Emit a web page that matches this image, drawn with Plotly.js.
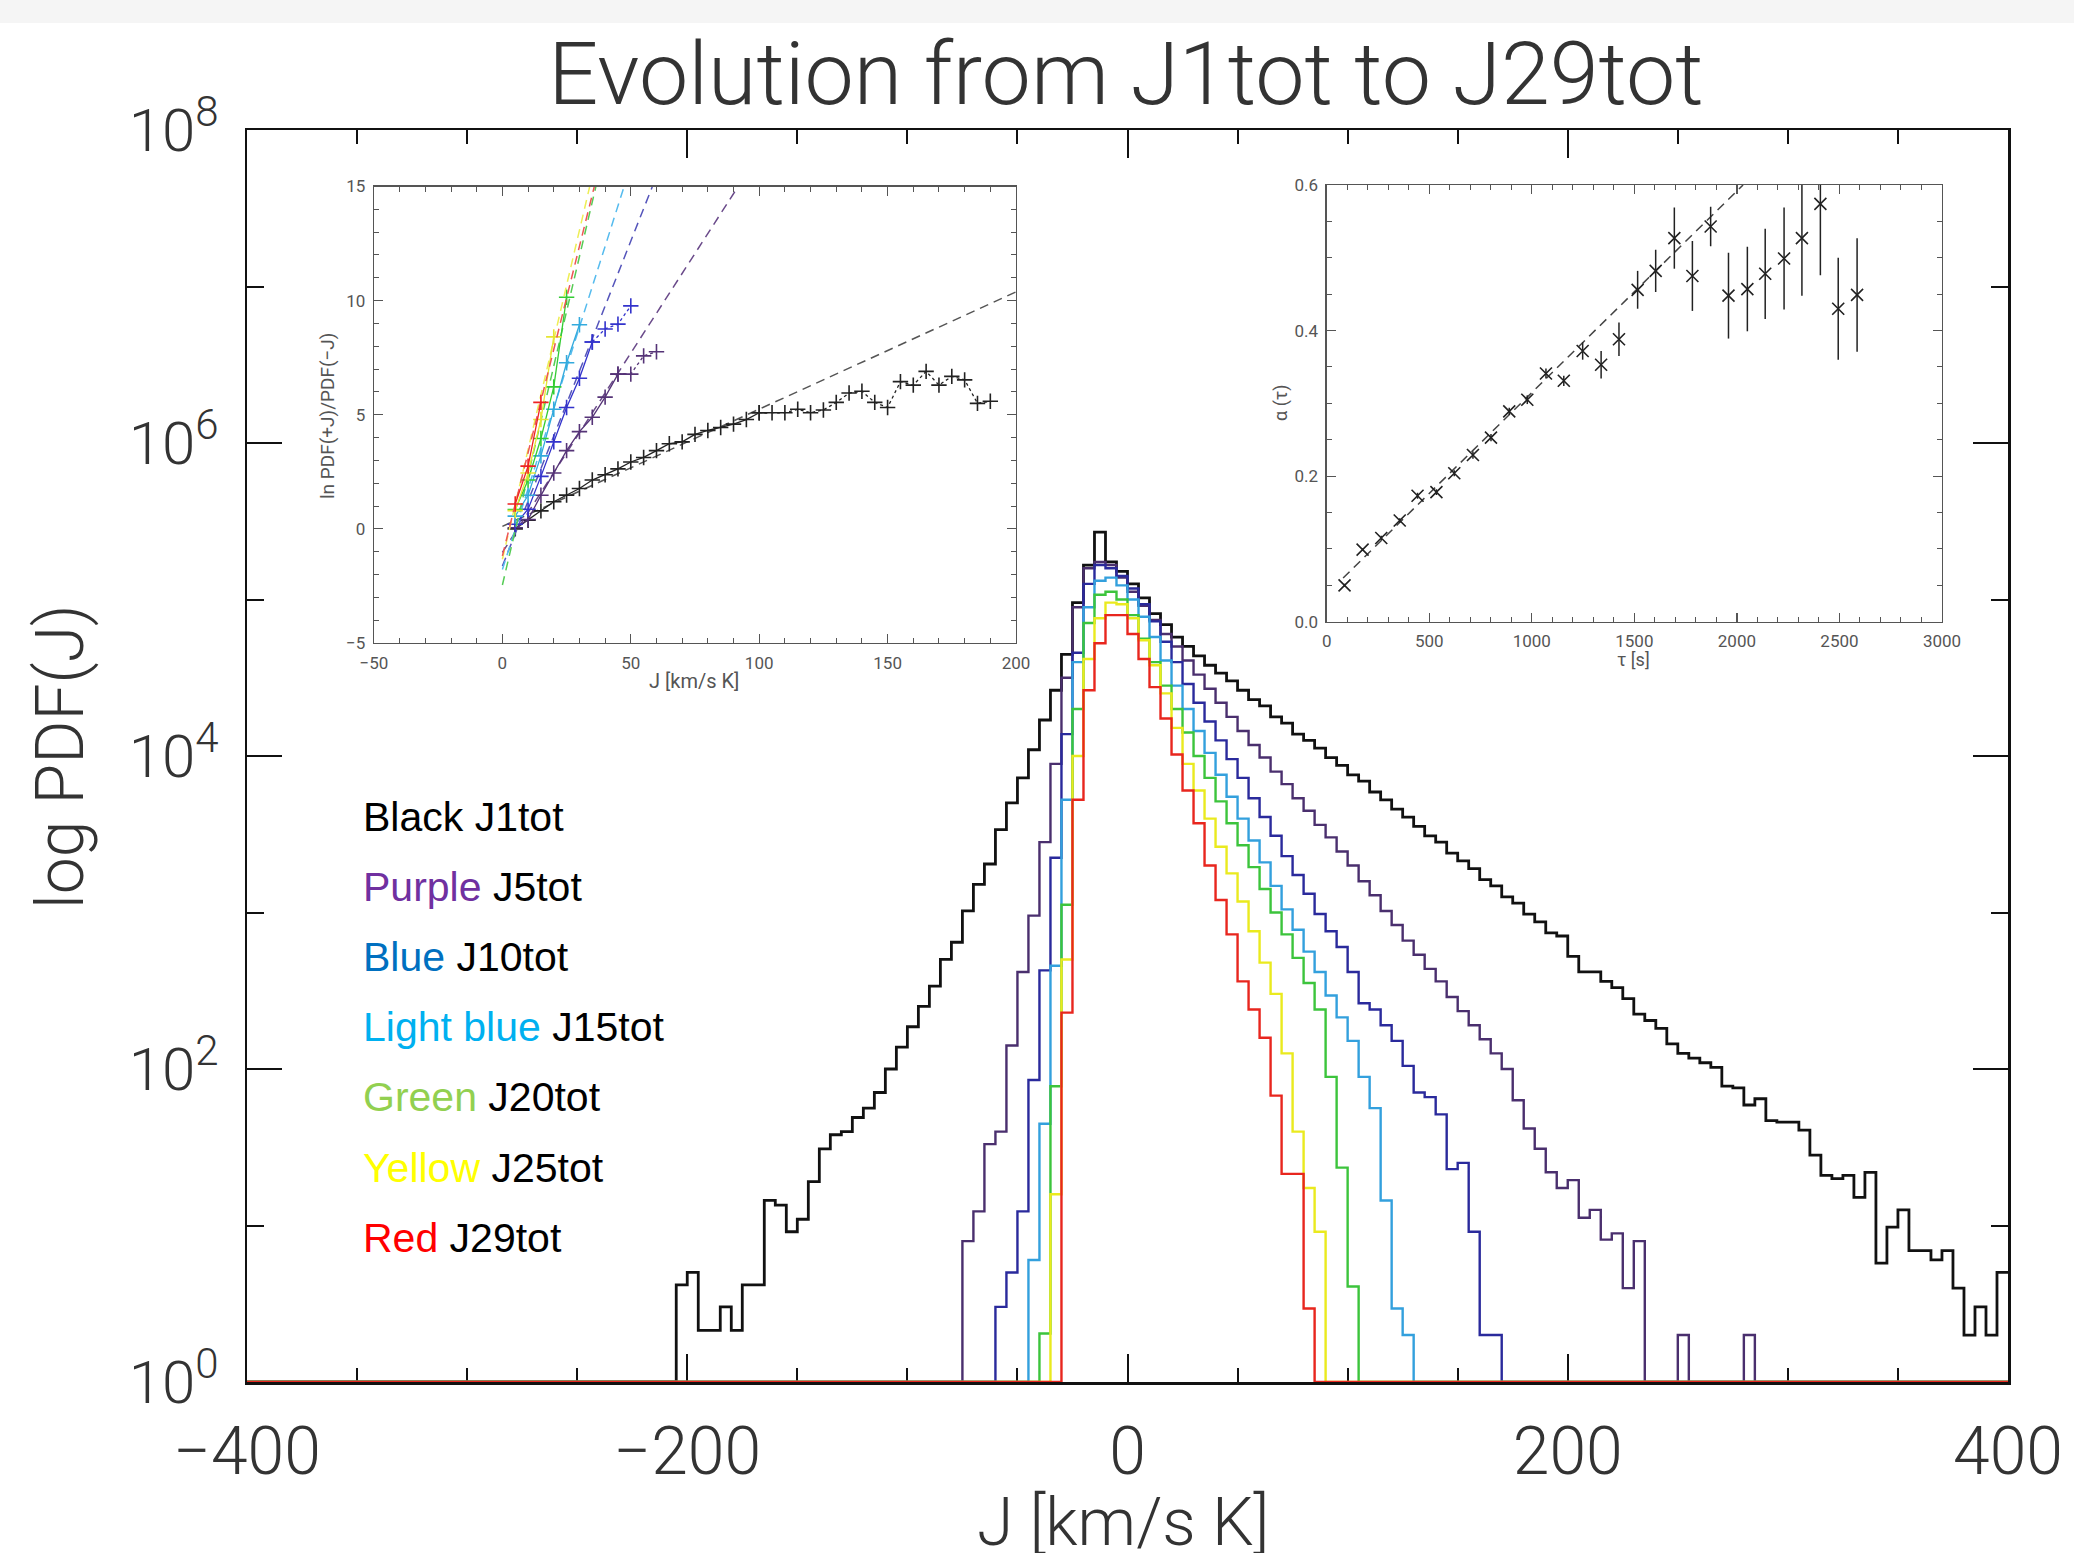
<!DOCTYPE html>
<html><head><meta charset="utf-8">
<script src="https://cdn.plot.ly/plotly-3.0.1.min.js"></script>
<style>
html,body{margin:0;padding:0;background:#fff;}
#band{position:absolute;left:0;top:0;width:2074px;height:23px;background:#f5f5f5;z-index:5;}
#plot{width:2074px;height:1553px;}
</style>
</head><body><div id="band"></div><div id="plot"></div>
<script>
// ---------------- main histograms (log10 of PDF per 5-unit bin) ----------------
const BIN = 5, J_MIN = -400, J_MAX = 400;
const seriesNames = ['J1tot','J5tot','J10tot','J15tot','J20tot','J25tot','J29tot'];
const lineColors  = ['#111111','#4a2f6e','#2a2a9c','#33a0dd','#3cc43c','#eaea1e','#e8261e'];
const lineWidths  = [2.8, 2.4, 2.4, 2.4, 2.4, 2.4, 2.4];
const startJ      = [-205, -75, -60, -45, -40, -35, -30];

const logBlack = [0.62,0.70,0.33,0.33,0.48,0.33,0.62,0.62,1.16,1.13,0.96,1.04,1.28,1.49,1.58,1.60,1.69,1.75,1.85,2.00,
  2.14,2.27,2.40,2.53,2.70,2.81,3.01,3.18,3.31,3.53,3.70,3.86,4.04,4.23,4.42,4.65,4.98,5.22,5.43,5.24,
  5.18,5.10,5.01,4.91,4.84,4.76,4.70,4.64,4.58,4.53,4.48,4.42,4.36,4.32,4.25,4.21,4.14,4.10,4.05,3.99,
  3.94,3.88,3.84,3.77,3.72,3.66,3.61,3.55,3.49,3.45,3.38,3.33,3.28,3.21,3.17,3.10,3.06,2.99,2.94,2.87,
  2.85,2.72,2.62,2.62,2.56,2.52,2.45,2.35,2.31,2.26,2.16,2.10,2.07,2.04,2.01,1.89,1.88,1.77,1.81,1.67,
  1.66,1.66,1.61,1.45,1.32,1.30,1.32,1.18,1.34,0.76,0.99,1.10,0.84,0.84,0.78,0.84,0.60,0.30,0.48,0.30,0.70];
const logPurple = [0.90,1.09,1.52,1.60,2.15,2.62,2.98,3.45,3.95,4.50,4.95,5.20,5.24,5.22,5.14,5.05,4.96,4.87,4.78,4.70,
  4.61,4.52,4.43,4.34,4.25,4.16,4.07,3.99,3.90,3.82,3.73,3.65,3.56,3.48,3.39,3.30,3.20,3.11,3.01,2.92,
  2.82,2.73,2.64,2.56,2.46,2.37,2.28,2.19,2.10,2.00,1.80,1.62,1.49,1.34,1.24,1.29,1.05,1.10,0.91,0.95,
  0.60,0.90,0,0,0,0.30,0,0,0,0,0,0.30];
const logBlue = [0.48,0.70,1.09,1.93,2.63,3.35,4.14,4.66,5.10,5.22,5.20,5.15,5.07,4.97,4.86,4.73,4.60,4.46,4.34,4.22,
  4.10,3.98,3.86,3.73,3.61,3.49,3.36,3.24,3.12,2.99,2.88,2.78,2.62,2.42,2.38,2.28,2.18,2.02,1.85,1.82,
  1.71,1.36,1.40,0.96,0.30,0.30];
const logLightBlue = [0.78,1.65,2.66,3.72,4.60,4.95,5.12,5.14,5.09,5.00,4.89,4.76,4.61,4.45,4.30,4.16,4.02,3.88,3.74,3.60,
  3.46,3.32,3.17,3.02,2.89,2.75,2.62,2.47,2.33,2.18,1.95,1.75,1.16,0.47,0.30];
const logGreen = [0.31,1.89,3.05,4.30,4.85,5.03,5.05,5.00,4.90,4.75,4.60,4.45,4.30,4.15,4.00,3.86,3.71,3.57,3.43,3.29,
  3.15,3.00,2.86,2.71,2.55,2.38,1.95,1.37,0.61];
const logYellow = [1.20,2.70,4.00,4.62,4.88,4.98,4.97,4.88,4.74,4.58,4.40,4.18,3.95,3.78,3.60,3.42,3.25,3.07,2.88,2.68,
  2.48,2.10,1.60,1.24,0.96];
const logRed = [2.36,3.72,4.42,4.72,4.90,4.90,4.78,4.62,4.44,4.24,4.01,3.78,3.57,3.30,3.08,2.86,2.56,2.38,2.20,1.83,
  1.33,1.33,0.47];
const allLogs = [logBlack, logPurple, logBlue, logLightBlue, logGreen, logYellow, logRed];

const xTickVals = [-400,-200,0,200,400];
const xMinorVals = [-350,-300,-250,-150,-100,-50,50,100,150,250,300,350];
const yTickVals = [1,1e2,1e4,1e6,1e8];
const yTickText = ['10<sup>0</sup>','10<sup>2</sup>','10<sup>4</sup>','10<sup>6</sup>','10<sup>8</sup>'];
const yMinorVals = [1e1,1e3,1e5,1e7];

// ---------------- left inset: ln PDF(+J)/PDF(-J) ----------------
const insBlackJ = [5,10,15,20,25,30,35,40,45,50,55,60,65,70,75,80,85,90,95,100,105,110,115,120,125,130,135,140,145,150,155,160,165,170,175,180,185,190];
const insBlackV = [0.00,0.38,0.79,1.19,1.48,1.77,2.14,2.37,2.63,2.93,3.13,3.43,3.73,3.81,4.14,4.31,4.44,4.59,4.79,5.09,5.09,5.09,5.24,5.09,5.21,5.54,5.95,6.03,5.54,5.32,6.45,6.30,6.90,6.30,6.68,6.53,5.50,5.59];
const insPurpleJ = [5,10,15,20,25,30,35,40,45,50,55,60];
const insPurpleV = [0.05,0.41,1.47,2.45,3.43,4.26,4.89,5.77,6.78,6.78,7.58,7.76];
const insBlueJ = [5,10,15,20,25,30,35,40,45,50];
const insBlueV = [0.20,0.86,2.30,3.81,5.32,6.60,8.19,8.76,8.97,9.77];
const insLightBlueJ = [5,10,15,20,25,30];
const insLightBlueV = [0.56,1.47,3.20,5.24,7.28,8.94];
const insGreenJ = [5,10,15,20,25];
const insGreenV = [0.85,2.14,3.96,6.22,10.15];
const insYellowJ = [5,10,15,20];
const insYellowV = [0.80,2.45,4.79,8.41];
const insRedJ = [5,10,15];
const insRedV = [1.09,2.75,5.54];
const insFitEndJ = [100,45,35,30,25,20,15];           // last point joined by a solid line
const insFitJ = [[0,200],[0,91.8],[0,58.4],[0,47.4],[0,36.4],[0,34.0],[0,35.8]];
const insFitV = [[0.11,10.38],[-1.03,15],[-1.63,15],[-1.78,15],[-2.46,15],[-1.33,15],[-1.18,15]];
const insMarkColors = ['#222222','#553377','#3333cc','#33aadd','#33cc33','#e6e633','#ee2222'];
const insDashColors = ['#555555','#6a4a8a','#5555bb','#55bbee','#55cc55','#eeee55','#ee5555'];
const insJs = [insBlackJ,insPurpleJ,insBlueJ,insLightBlueJ,insGreenJ,insYellowJ,insRedJ];
const insVs = [insBlackV,insPurpleV,insBlueV,insLightBlueV,insGreenV,insYellowV,insRedV];

// ---------------- right inset: alpha(tau) ----------------
const tau = [87,175,266,356,443,535,622,713,801,890,978,1069,1156,1248,1338,1425,1516,1604,1695,1783,1872,1959,2051,2138,2230,2317,2407,2494,2586];
const alpha = [0.050,0.099,0.115,0.139,0.173,0.178,0.204,0.229,0.253,0.289,0.305,0.341,0.331,0.372,0.353,0.388,0.456,0.482,0.527,0.475,0.543,0.448,0.457,0.478,0.499,0.527,0.574,0.430,0.449];
const alphaErr = [0.002,0.002,0.003,0.003,0.004,0.004,0.004,0.005,0.005,0.005,0.006,0.007,0.007,0.012,0.019,0.023,0.026,0.029,0.042,0.048,0.027,0.059,0.058,0.062,0.070,0.079,0.098,0.070,0.078];
const fitTau = [80,2030];
const fitAlpha = [0.060,0.600];

// ---------------- legend ----------------
const legendWords  = ['Black','Purple','Blue','Light blue','Green','Yellow','Red'];
const legendColors = ['#000000','#7030a0','#0070c0','#00b0f0','#92d050','#ffff00','#ff0000'];

// ================= build =================
const W = 2074, H = 1553;
const px = v => v / W, py = v => 1 - v / H;
const F = 'Roboto, "DejaVu Sans", sans-serif';
const FA = '"Liberation Sans", Arial, sans-serif';

const traces = [];
allLogs.forEach((logs, s) => {
  const x = [], y = [];
  const nb = (J_MAX - J_MIN) / BIN;
  for (let i = 0; i < nb; i++) {
    const j = J_MIN + i * BIN;
    const k = Math.round((j - startJ[s]) / BIN);
    const L = (k >= 0 && k < logs.length) ? logs[k] : 0;
    x.push(j); y.push(Math.pow(10, L));
  }
  x.push(J_MAX); y.push(y[y.length - 1]);
  traces.push({type:'scatter', mode:'lines', x:x, y:y, name:seriesNames[s],
    line:{shape:'hv', color:lineColors[s], width:lineWidths[s]}, xaxis:'x', yaxis:'y', hoverinfo:'skip'});
});

// left inset traces
insJs.forEach((J, s) => {
  const V = insVs[s];
  traces.push({type:'scatter', mode:'lines', x:insFitJ[s], y:insFitV[s], xaxis:'x2', yaxis:'y2',
    line:{color:insDashColors[s], width:1.5, dash:'9px,6px'}, hoverinfo:'skip'});
  const ie = J.indexOf(insFitEndJ[s]);
  traces.push({type:'scatter', mode:'lines+markers', x:J.slice(0, ie + 1), y:V.slice(0, ie + 1), xaxis:'x2', yaxis:'y2',
    line:{color:insMarkColors[s], width:1.3},
    marker:{symbol:'cross-thin', size:11, line:{width:1.6, color:insMarkColors[s]}}, hoverinfo:'skip'});
  if (ie < J.length - 1) {
    traces.push({type:'scatter', mode:'lines+markers', x:J.slice(ie), y:V.slice(ie), xaxis:'x2', yaxis:'y2',
      line:{color:insMarkColors[s], width:1.3, dash:'dot'},
      marker:{symbol:'cross-thin', size:11, line:{width:1.6, color:insMarkColors[s]}}, hoverinfo:'skip'});
  }
});

// right inset traces
traces.push({type:'scatter', mode:'lines', x:fitTau, y:fitAlpha, xaxis:'x3', yaxis:'y3',
  line:{color:'#444', width:1.5, dash:'9px,6px'}, hoverinfo:'skip'});
traces.push({type:'scatter', mode:'markers', x:tau, y:alpha, xaxis:'x3', yaxis:'y3',
  marker:{symbol:'x-thin', size:12, line:{width:1.6, color:'#222'}},
  error_y:{type:'data', array:alphaErr, visible:true, color:'#222', thickness:1.5, width:0}, hoverinfo:'skip'});

const insetAxis = (extra) => Object.assign({
  showline:true, linecolor:'#555', linewidth:1.3, mirror:'ticks', ticks:'inside', ticklen:9, tickwidth:1.2,
  tickcolor:'#555', showgrid:false, zeroline:false, tickfont:{family:F, size:17, color:'#555'},
  ticklabelstandoff:4
}, extra);

const annotations = [
  {text:'log PDF(J)', x:px(60), y:py(757), xref:'paper', yref:'paper', showarrow:false, textangle:-90,
   font:{family:F, size:66, color:'#333', weight:300}, xanchor:'center', yanchor:'middle'},
  {text:'J [km/s K]', x:px(1123), y:py(1522), xref:'paper', yref:'paper', showarrow:false,
   font:{family:F, size:66, color:'#333', weight:300}, xanchor:'center', yanchor:'middle'},
  {text:'ln PDF(+J)/PDF(\u2212J)', x:px(328), y:py(416), xref:'paper', yref:'paper', showarrow:false, textangle:-90,
   font:{family:F, size:19, color:'#555'}, xanchor:'center', yanchor:'middle'},
  {text:'J [km/s K]', x:px(694), y:py(681), xref:'paper', yref:'paper', showarrow:false,
   font:{family:F, size:20, color:'#555'}, xanchor:'center', yanchor:'middle'},
  {text:'\u03b1 (\u03c4)', x:px(1281), y:py(403), xref:'paper', yref:'paper', showarrow:false, textangle:-90,
   font:{family:F, size:18, color:'#555'}, xanchor:'center', yanchor:'middle'},
  {text:'\u03c4 [s]', x:px(1633), y:py(659), xref:'paper', yref:'paper', showarrow:false,
   font:{family:F, size:18, color:'#555'}, xanchor:'center', yanchor:'middle'}
];
legendWords.forEach((w, i) => {
  annotations.push({text:'<span style="color:' + legendColors[i] + '">' + w + '</span> ' + seriesNames[i],
    x:px(361), y:py(817 + 70.1 * i), xref:'paper', yref:'paper', showarrow:false,
    xanchor:'left', yanchor:'middle', font:{family:FA, size:41, color:'#000'}});
});

const layout = {
  width:W, height:H, margin:{l:0, r:0, t:0, b:0},
  paper_bgcolor:'#ffffff', plot_bgcolor:'rgba(0,0,0,0)', showlegend:false,
  title:{text:'Evolution from J1tot to J29tot', x:px(1126), xanchor:'center', y:py(73), yanchor:'middle',
    font:{family:F, size:88, color:'#333', weight:300}},
  xaxis:{domain:[px(247), px(2008)], range:[J_MIN, J_MAX], anchor:'y', tickmode:'array', tickvals:xTickVals,
    ticks:'inside', ticklen:28, tickwidth:2, tickcolor:'#111', showline:true, linewidth:2.5, linecolor:'#111',
    mirror:'ticks', showgrid:false, zeroline:false, layer:'below traces',
    tickfont:{family:F, size:66, color:'#333', weight:300}, ticklabelstandoff:10,
    minor:{tickvals:xMinorVals, ticks:'inside', ticklen:14, tickwidth:2, tickcolor:'#111', showgrid:false}},
  yaxis:{domain:[py(1382), py(130)], type:'log', range:[0, 8], anchor:'x', tickmode:'array', tickvals:yTickVals,
    ticktext:yTickText, ticks:'inside', ticklen:35, tickwidth:2, tickcolor:'#111', showline:true, linewidth:2.5,
    linecolor:'#111', mirror:'ticks', showgrid:false, zeroline:false, layer:'below traces',
    tickfont:{family:F, size:60, color:'#333', weight:300}, ticklabelstandoff:14,
    minor:{tickvals:yMinorVals, ticks:'inside', ticklen:17, tickwidth:2, tickcolor:'#111', showgrid:false}},
  xaxis2:insetAxis({domain:[px(374), px(1016)], range:[-50, 200], anchor:'y2', dtick:50, tick0:0,
    minor:{dtick:10, ticks:'inside', ticklen:5, tickwidth:1, tickcolor:'#555'}}),
  yaxis2:insetAxis({domain:[py(643), py(186.5)], range:[-5, 15], anchor:'x2', dtick:5, tick0:0,
    minor:{dtick:1, ticks:'inside', ticklen:5, tickwidth:1, tickcolor:'#555'}}),
  xaxis3:insetAxis({domain:[px(1326.7), px(1942)], range:[0, 3000], anchor:'y3', dtick:500, tick0:0,
    minor:{dtick:100, ticks:'inside', ticklen:5, tickwidth:1, tickcolor:'#555'}}),
  yaxis3:insetAxis({domain:[py(621.7), py(185)], range:[0, 0.6], anchor:'x3', dtick:0.2, tick0:0, tickformat:'.1f',
    minor:{dtick:0.05, ticks:'inside', ticklen:5, tickwidth:1, tickcolor:'#555'}}),
  annotations:annotations
};

Plotly.newPlot('plot', traces, layout, {staticPlot:true, displayModeBar:false});
</script></body></html>
